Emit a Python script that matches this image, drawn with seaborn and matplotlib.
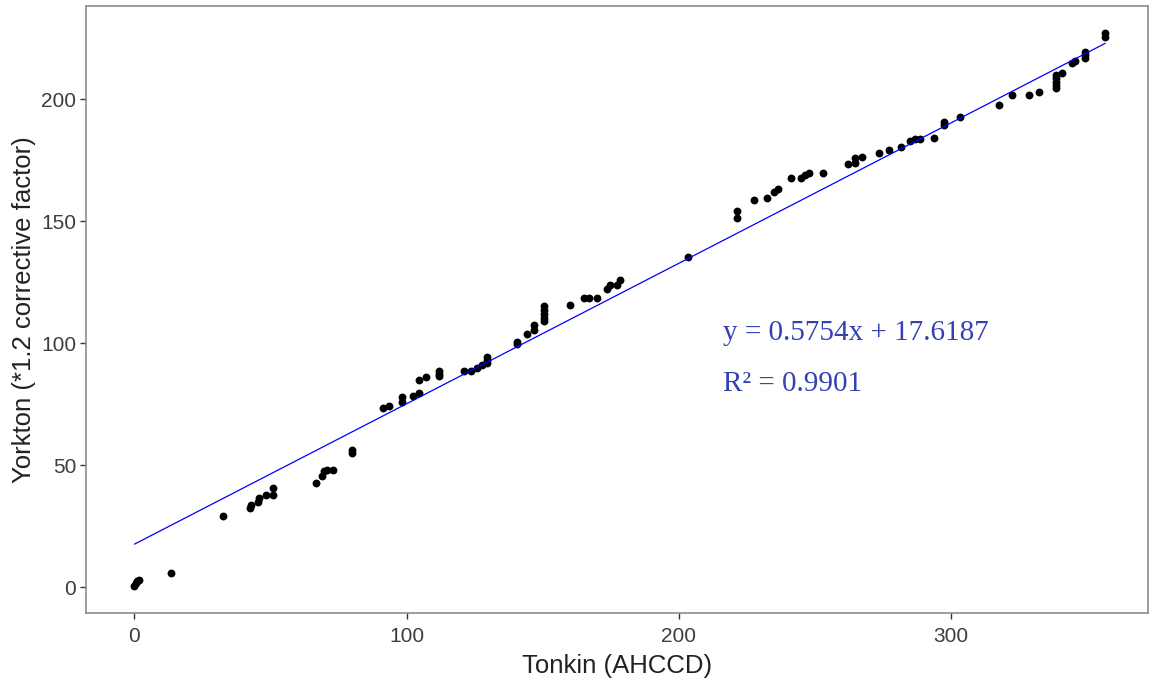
import numpy as np
import pandas as pd
import matplotlib
matplotlib.use("Agg")
import matplotlib.pyplot as plt
import seaborn as sns

# Data
tonkin = [0, 0.5, 1, 1.5, 13.6, 32.5, 42.3, 42.9, 45.3, 45.9, 48.4, 50.8, 50.8,
          66.7, 69.1, 69.7, 70.9, 72.8, 80.1, 80.1, 91.2, 93.6, 98.5, 98.5,
          102.2, 104.6, 104.6, 107.1, 111.9, 111.9, 111.9, 121.1, 123.6, 126.0,
          127.8, 129.6, 129.6, 129.6, 140.6, 140.6, 144.3, 146.7, 146.7,
          150.4, 150.4, 150.4, 150.4, 150.4, 160.2, 165.1, 167.0, 170.0, 173.7,
          174.9, 177.3, 178.6, 203.6, 221.6, 221.6, 227.7, 232.6, 235.1, 236.6,
          241.2, 244.8, 246.4, 248.0, 252.9, 262.3, 264.8, 264.8, 267.2, 273.6,
          277.3, 281.8, 284.9, 286.7, 288.6, 293.8, 297.4, 297.4, 303.5, 317.6,
          322.5, 328.6, 332.3, 338.6, 338.6, 338.6, 338.6, 338.6, 341.0, 344.7,
          345.5, 349.5, 349.5, 349.5, 356.8, 356.8]
yorkton = [0.5, 1.5, 2.5, 3.0, 5.8, 29.0, 32.4, 33.8, 35.1, 36.5, 37.9, 40.6, 37.9,
           42.7, 45.4, 47.4, 48.1, 48.1, 56.3, 54.9, 73.4, 74.3, 76.0, 78.0,
           78.4, 79.5, 85.0, 86.3, 88.4, 87.5, 86.6, 88.4, 88.4, 90.0,
           91.1, 91.8, 93.2, 94.5, 99.5, 100.6, 103.8, 105.5, 107.5,
           108.9, 110.5, 112.0, 113.6, 115.2, 115.7, 118.7, 118.7, 118.5, 122.1,
           123.9, 123.9, 125.9, 135.5, 154.0, 151.2, 158.7, 159.4, 162.1, 163.1,
           167.6, 167.6, 169.0, 169.6, 169.6, 173.5, 173.7, 175.8, 176.2, 177.8,
           179.2, 180.5, 183.0, 183.6, 183.6, 184.0, 190.8, 189.4, 192.6, 197.6,
           201.7, 201.7, 203.1, 204.5, 205.9, 207.2, 208.6, 209.9, 210.6, 214.7,
           215.5, 219.5, 218.1, 216.8, 227.0, 225.6]

slope = 0.5754
intercept = 17.6187
r2 = 0.9901

df = pd.DataFrame({"Tonkin": tonkin, "Yorkton": yorkton})
df["fit"] = slope * df["Tonkin"] + intercept

sns.set_theme(style="white")
plt.rcParams['font.family'] = ['Liberation Sans', 'DejaVu Sans']

fig = plt.figure(figsize=(11.5, 6.83), dpi=100)
ax = fig.add_axes([0.0748, 0.1025, 0.9235, 0.8887])

sns.scatterplot(data=df, x="Tonkin", y="Yorkton", ax=ax, color="black",
                s=32, edgecolor="black", linewidth=0, zorder=2)
sns.lineplot(data=df, x="Tonkin", y="fit", ax=ax, color="#0000FF",
             linewidth=0.9, zorder=3, errorbar=None)

ax.set_xlim(-17.8, 372.5)
ax.set_ylim(-10.6, 238.2)
ax.set_xticks([0, 100, 200, 300])
ax.set_yticks([0, 50, 100, 150, 200])

for sp in ax.spines.values():
    sp.set_visible(True)
    sp.set_color("#8c8c8c")
    sp.set_linewidth(1.2)

ax.tick_params(axis="both", which="major", length=4, width=1, color="#333333",
               labelsize=15, labelcolor="#3d3d3d", direction="out",
               bottom=True, left=True, pad=3)
ax.tick_params(axis="x", pad=6)
ax.set_xlabel("Tonkin (AHCCD)", fontsize=18.5, color="#222222", labelpad=6)
ax.set_ylabel("Yorkton (*1.2 corrective factor)", fontsize=18.5, color="#222222", labelpad=4)

txt_color = "#3341b3"
serif = ["Liberation Serif", "DejaVu Serif"]
ax.text(0.6287, 0.5022, f"y = {slope}x + {intercept}", transform=fig.transFigure,
        fontsize=21, color=txt_color, family=serif, ha="left", va="baseline")
ax.text(0.6287, 0.4275, f"R\u00b2 = {r2}", transform=fig.transFigure,
        fontsize=21, color=txt_color, family=serif, ha="left", va="baseline")
ax.grid(False)

fig.savefig("out.png", dpi=100)
